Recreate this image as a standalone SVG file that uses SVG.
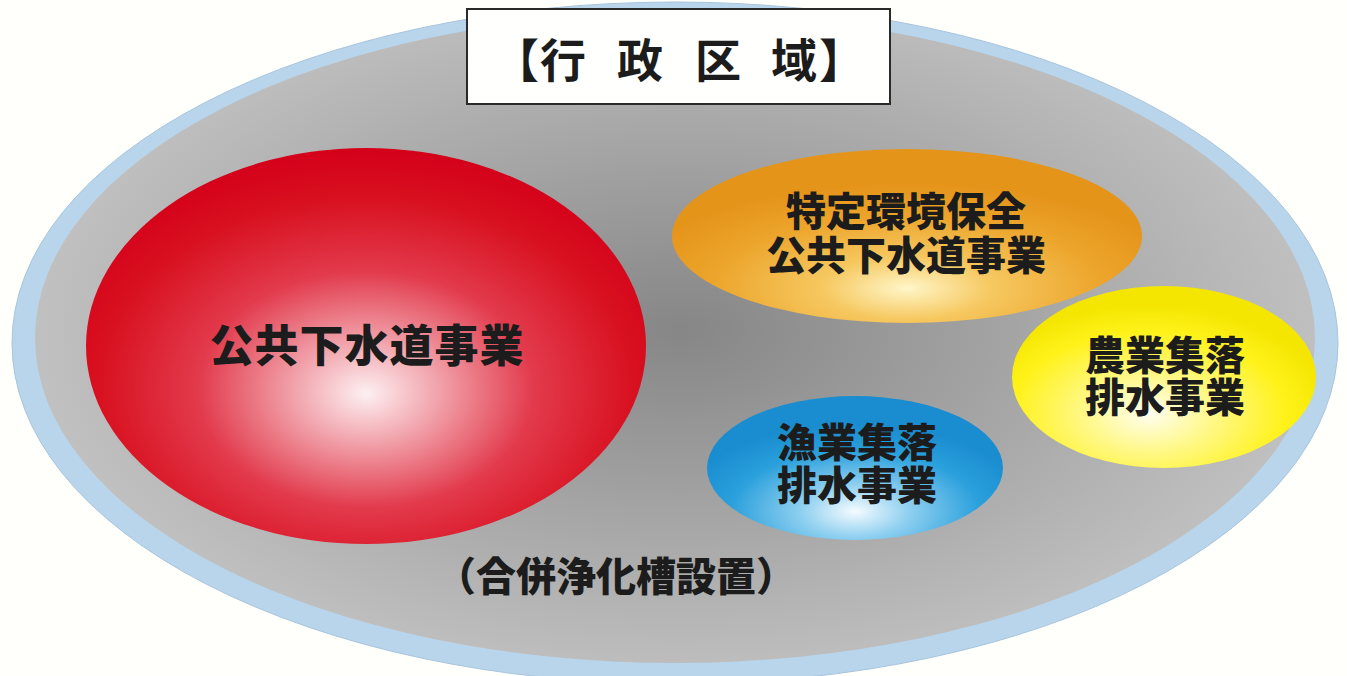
<svg xmlns="http://www.w3.org/2000/svg" width="1347" height="676" viewBox="0 0 1347 676">
<defs>
<radialGradient id="gGray" cx="680" cy="330" r="640" gradientUnits="userSpaceOnUse" gradientTransform="translate(680 330) scale(1 0.55) translate(-680 -330)">
<stop offset="0" stop-color="#868686"/>
<stop offset="0.55" stop-color="#a6a6a6"/>
<stop offset="1" stop-color="#c0c0c0"/>
</radialGradient>
<radialGradient id="gRed" cx="0.5" cy="0.6" r="0.6" fx="0.5" fy="0.62">
<stop offset="0" stop-color="#fdf0f2"/>
<stop offset="0.2" stop-color="#f2a8b0"/>
<stop offset="0.5" stop-color="#e23a4c"/>
<stop offset="0.8" stop-color="#d8101f"/>
<stop offset="1" stop-color="#d4001a"/>
</radialGradient>
<radialGradient id="gOrange" cx="0.5" cy="0.8" r="0.6" fx="0.5" fy="0.8">
<stop offset="0" stop-color="#fff6c8"/>
<stop offset="0.3" stop-color="#f6c860"/>
<stop offset="0.7" stop-color="#eca42a"/>
<stop offset="1" stop-color="#e5941a"/>
</radialGradient>
<radialGradient id="gYellow" cx="0.45" cy="0.7" r="0.6" fx="0.45" fy="0.7">
<stop offset="0" stop-color="#fffef0"/>
<stop offset="0.35" stop-color="#fff888"/>
<stop offset="0.75" stop-color="#fff21a"/>
<stop offset="1" stop-color="#f4e600"/>
</radialGradient>
<radialGradient id="gBlue" cx="0.5" cy="0.8" r="0.6" fx="0.5" fy="0.8">
<stop offset="0" stop-color="#f4fbff"/>
<stop offset="0.3" stop-color="#90d0f0"/>
<stop offset="0.7" stop-color="#2aa0dc"/>
<stop offset="1" stop-color="#1a8cd0"/>
</radialGradient>
</defs>
<style>
.lbl{font-family:"Noto Sans CJK JP","Noto Sans CJK SC",sans-serif;font-weight:900;fill:#1c1c1c;text-anchor:middle}
</style>
<rect x="0" y="0" width="1347" height="676" fill="#fffffc"/>
<g id="region">
<ellipse cx="675" cy="343" rx="663" ry="341" fill="#b9d5eb" stroke="#a8c4dc" stroke-width="1"/>
<ellipse cx="675" cy="338" rx="640" ry="325" fill="url(#gGray)"/>
</g>
<g id="title">
<rect x="467" y="9" width="423" height="95" fill="#fffffd" stroke="#2a2a2a" stroke-width="2"/>
<text class="lbl" font-size="46" y="77" x="516 563 640 718 794 842" style="font-weight:700">【行政区域】</text>
</g>
<g id="kokyo">
<ellipse cx="366" cy="346" rx="280" ry="198" fill="url(#gRed)"/>
<text class="lbl" font-size="44" x="367" y="362" letter-spacing="1">公共下水道事業</text>
</g>
<g id="tokutei">
<ellipse cx="907" cy="236" rx="235" ry="87" fill="url(#gOrange)"/>
<text class="lbl" font-size="40" x="906" y="226">特定環境保全</text>
<text class="lbl" font-size="40" x="906" y="270">公共下水道事業</text>
</g>
<g id="nogyo">
<ellipse cx="1164" cy="377" rx="152" ry="91" fill="url(#gYellow)"/>
<text class="lbl" font-size="40" x="1165" y="370">農業集落</text>
<text class="lbl" font-size="40" x="1165" y="412">排水事業</text>
</g>
<g id="gyogyo">
<ellipse cx="855" cy="468" rx="148" ry="72" fill="url(#gBlue)"/>
<text class="lbl" font-size="40" x="857" y="457">漁業集落</text>
<text class="lbl" font-size="40" x="857" y="500">排水事業</text>
</g>
<g id="gappei">
<text class="lbl" font-size="40" x="616" y="591">（合併浄化槽設置）</text>
</g>
<g id="connectors"/>
</svg>
